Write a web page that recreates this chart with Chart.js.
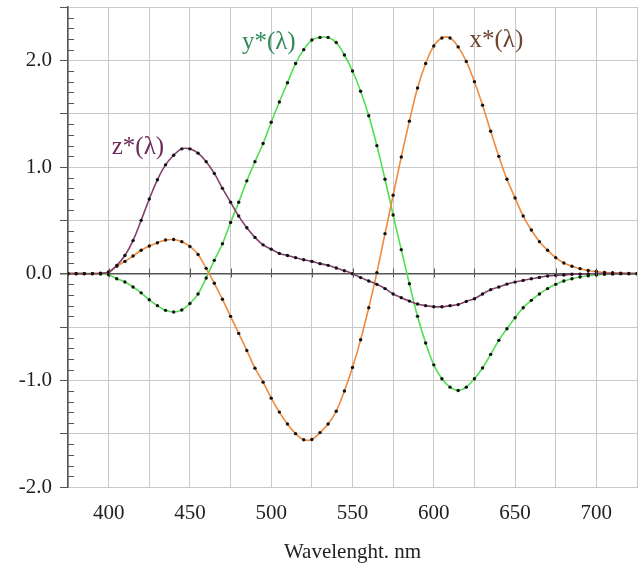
<!DOCTYPE html>
<html>
<head>
<meta charset="utf-8">
<script src="https://cdn.jsdelivr.net/npm/chart.js@4/dist/chart.umd.min.js"></script>
<style>
  html, body { margin: 0; padding: 0; background: #fff; }
  #wrap { width: 641px; height: 565px; }
</style>
</head>
<body>
<div id="wrap"><canvas id="myChart" width="641" height="565"></canvas></div>
<script>
// wavelength, nm (5 nm step)
const wavelengths = [];
for (let w = 375; w <= 725; w += 5) wavelengths.push(w);

// colour matching functions
const xStar = [0, 0, 0, 0, 0.003, 0.015, 0.07, 0.115, 0.165, 0.22, 0.26, 0.29, 0.315, 0.32, 0.30, 0.255, 0.18, 0.05, -0.09, -0.24,
  -0.40, -0.56, -0.72, -0.886, -1.017, -1.167, -1.298, -1.41, -1.50, -1.557, -1.554, -1.49, -1.41, -1.29, -1.10, -0.88, -0.62, -0.32, 0.01, 0.375,
  0.735, 1.094, 1.43, 1.74, 1.97, 2.135, 2.21, 2.21, 2.126, 1.99, 1.80, 1.58, 1.335, 1.10, 0.885, 0.71, 0.54, 0.41, 0.30, 0.22,
  0.15, 0.10, 0.07, 0.047, 0.03, 0.02, 0.012, 0.008, 0.005, 0.002, 0];
const yStar = [0, 0, 0, 0, -0.003, -0.01, -0.047, -0.078, -0.125, -0.18, -0.245, -0.30, -0.344, -0.36, -0.34, -0.28, -0.19, -0.04, 0.125, 0.28,
  0.48, 0.67, 0.87, 1.05, 1.22, 1.42, 1.61, 1.79, 1.97, 2.10, 2.19, 2.215, 2.215, 2.167, 2.05, 1.90, 1.71, 1.48, 1.20, 0.885,
  0.55, 0.225, -0.094, -0.40, -0.65, -0.855, -0.985, -1.064, -1.095, -1.064, -0.985, -0.885, -0.757, -0.625, -0.516, -0.413, -0.32, -0.25, -0.19, -0.14,
  -0.10, -0.069, -0.047, -0.031, -0.019, -0.013, -0.006, -0.003, 0, 0, 0];
const zStar = [0, 0, 0, 0, 0.004, 0.015, 0.078, 0.17, 0.31, 0.50, 0.70, 0.88, 1.02, 1.11, 1.17, 1.17, 1.13, 1.05, 0.94, 0.80,
  0.67, 0.54, 0.43, 0.34, 0.27, 0.23, 0.19, 0.17, 0.15, 0.13, 0.115, 0.094, 0.078, 0.053, 0.028, 0.0, -0.037, -0.069, -0.10, -0.14,
  -0.19, -0.225, -0.257, -0.285, -0.30, -0.31, -0.31, -0.30, -0.29, -0.26, -0.235, -0.19, -0.15, -0.125, -0.098, -0.079, -0.063, -0.047, -0.035, -0.022,
  -0.016, -0.012, -0.006, -0.004, -0.002, 0, 0, 0, 0, 0, 0];

// curve labels: [text, wavelength, value, colour]
const curveLabels = [
  ['z*(λ)', 418, 1.18, '#6a2a5c'],
  ['y*(λ)', 498.5, 2.17, '#2f8a55'],
  ['x*(λ)', 638.5, 2.19, '#6e4630']
];

const toPoints = vals => wavelengths.map((w, i) => ({ x: w, y: vals[i] }));
const SERIF = '"Liberation Serif", "Times New Roman", serif';

// minor ticks, zero-line ticks and curve labels
const extras = {
  id: 'extras',
  afterDatasetsDraw(chart) {
    const { ctx, chartArea, scales } = chart;
    const xs = scales.x, ys = scales.y;
    ctx.save();
    ctx.strokeStyle = '#555';
    ctx.lineWidth = 1;
    ctx.beginPath();
    for (let v = -20; v <= 25; v++) {
      if (v % 5 === 0) continue;
      const py = Math.round(ys.getPixelForValue(v / 10)) + 0.5;
      ctx.moveTo(chartArea.left, py);
      ctx.lineTo(chartArea.left + 6, py);
    }
    const y0 = Math.round(ys.getPixelForValue(0)) + 0.5;
    for (let w = 400; w < 725; w += 25) {
      const px = Math.round(xs.getPixelForValue(w)) + 0.5;
      ctx.moveTo(px, y0 - 6);
      ctx.lineTo(px, y0 + 3);
    }
    ctx.stroke();

    ctx.font = '25px ' + SERIF;
    ctx.textAlign = 'center';
    ctx.textBaseline = 'middle';
    curveLabels.forEach(([t, w, v, c]) => {
      ctx.fillStyle = c;
      ctx.fillText(t, xs.getPixelForValue(w), ys.getPixelForValue(v));
    });
    ctx.restore();
  }
};

const lineDs = (label, vals, color) => ({
  label: label,
  data: toPoints(vals),
  borderColor: color,
  borderWidth: 1.6,
  tension: 0.4,
  pointRadius: 1.7,
  pointBackgroundColor: '#111',
  pointBorderWidth: 0,
  fill: false
});

const noPad = s => { s.paddingTop = 0; s.paddingBottom = 0; s.paddingLeft = 0; s.paddingRight = 0; };

const ctx = document.getElementById('myChart').getContext('2d');
const chart = new Chart(ctx, {
  type: 'line',
  data: {
    datasets: [
      lineDs('z*', zStar, '#86406f'),
      lineDs('x*', xStar, '#f08a3c'),
      lineDs('y*', yStar, '#4fe04f')
    ]
  },
  options: {
    responsive: false,
    animation: false,
    layout: { padding: { top: 7, right: 4, left: 0, bottom: 0 } },
    plugins: { legend: { display: false }, tooltip: { enabled: false } },
    scales: {
      x: {
        type: 'linear',
        min: 375,
        max: 725,
        afterFit: s => { s.height = 78; noPad(s); },
        grid: { color: '#c9c9c9', lineWidth: 1, drawTicks: false },
        border: { color: '#c9c9c9' },
        ticks: {
          stepSize: 25,
          autoSkip: false,
          maxRotation: 0,
          padding: 14,
          color: '#222',
          font: { family: SERIF, size: 21 },
          callback: v => (v % 50 === 0 ? String(v) : '')
        },
        title: {
          display: true,
          text: 'Wavelenght. nm',
          color: '#222',
          font: { family: SERIF, size: 21, lineHeight: 1.2 },
          padding: { top: 0, bottom: 0 }
        }
      },
      y: {
        min: -2,
        max: 2.5,
        afterFit: s => { s.width = 68; noPad(s); },
        grid: {
          color: c => (c.tick && c.tick.value === 0 ? '#555' : '#c9c9c9'),
          lineWidth: c => (c.tick && c.tick.value === 0 ? 1.5 : 1),
          tickColor: '#555',
          tickLength: 8
        },
        border: { color: '#555', width: 1.5 },
        ticks: {
          stepSize: 0.5,
          autoSkip: false,
          padding: 8,
          color: '#222',
          font: { family: SERIF, size: 21 },
          callback: v => (Number.isInteger(v) ? v.toFixed(1) : '')
        }
      }
    }
  },
  plugins: [extras]
});
</script>
</body>
</html>
